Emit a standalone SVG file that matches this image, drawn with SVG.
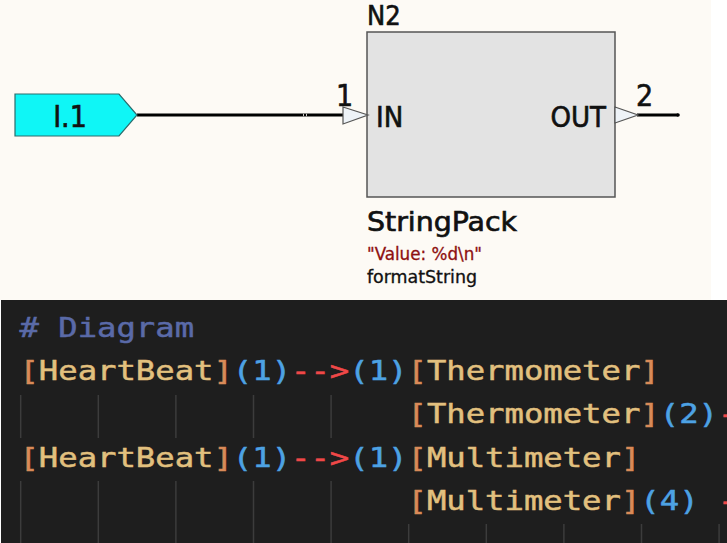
<svg xmlns="http://www.w3.org/2000/svg" width="727" height="543" viewBox="0 0 727 543">
<style>
.lbl{font-family:"DejaVu Sans Condensed","DejaVu Sans",sans-serif;fill:#111;stroke:#111;stroke-width:0.6;font-stretch:condensed}
.thin{stroke-width:0.3}
.wire{stroke:#000;stroke-width:3;fill:none}
.pin{fill:#eef3f8;stroke:#555;stroke-width:1.2}
.code{font-family:"DejaVu Sans Mono","Liberation Mono",monospace;font-size:27px;stroke-width:0.5}
.br{fill:#d98a58;stroke:#d98a58}
.nm{fill:#e2c07e;stroke:#e2c07e}
.pt{fill:#4da2e4;stroke:#4da2e4}
.ar{fill:#f04848;stroke:#f04848}
.cm{fill:#5a6aa8;stroke:#5a6aa8}
.guide{stroke:#3c3c3c;stroke-width:1.5}
</style>
<rect x="0" y="0" width="727" height="543" fill="#ffffff"/>
<rect x="0" y="0" width="711" height="300" fill="#fdfaf5"/>
<rect x="1" y="300" width="726" height="243" fill="#1e1e1e"/>

<g id="connectors">
  <line class="wire" x1="137" y1="115" x2="344" y2="115"/>
  <line x1="303.5" y1="113.8" x2="303.5" y2="116.2" stroke="#fdfaf5" stroke-width="0.8"/>
  <line x1="306.5" y1="113.8" x2="306.5" y2="116.2" stroke="#fdfaf5" stroke-width="0.8"/>
  <line class="wire" x1="637" y1="115" x2="678" y2="115"/>
  <circle cx="678" cy="115" r="1.8" fill="#000"/>
</g>

<g id="I1">
  <polygon points="15,94 119,94 137,115 119,136 15,136" fill="#0ff6f6" stroke="#2c6c6c" stroke-width="1.2"/>
  <text class="lbl" x="70" y="127" font-size="30" text-anchor="middle">I.1</text>
</g>

<g id="N2">
  <text class="lbl" x="367" y="25" font-size="27">N2</text>
  <rect x="367" y="32" width="248" height="165" fill="#e3e3e3" stroke="#555" stroke-width="1.5"/>
  <polygon class="pin" points="343,107 368,115 343,124"/>
  <polygon class="pin" points="615,107 638,115 615,123"/>
  <text class="lbl" x="336" y="106" font-size="30">1</text>
  <text class="lbl" x="636" y="106" font-size="30">2</text>
  <text class="lbl" x="376" y="127" font-size="29">IN</text>
  <text class="lbl" x="606" y="127" font-size="29" text-anchor="end">OUT</text>
  <text class="lbl" x="367" y="231" font-size="26" textLength="150" lengthAdjust="spacingAndGlyphs">StringPack</text>
  <text class="lbl thin" x="367" y="260" font-size="18" style="fill:#8e1010;stroke:#8e1010" textLength="115" lengthAdjust="spacingAndGlyphs">"Value: %d\n"</text>
  <text class="lbl thin" x="367" y="283" font-size="17" textLength="110" lengthAdjust="spacingAndGlyphs">formatString</text>
</g>

<g id="guides">
  <line class="guide" x1="20.7" y1="395" x2="20.7" y2="438"/>
  <line class="guide" x1="98.3" y1="395" x2="98.3" y2="438"/>
  <line class="guide" x1="175.9" y1="395" x2="175.9" y2="438"/>
  <line class="guide" x1="253.5" y1="395" x2="253.5" y2="438"/>
  <line class="guide" x1="331.1" y1="395" x2="331.1" y2="438"/>
  <line class="guide" x1="20.7" y1="481" x2="20.7" y2="543"/>
  <line class="guide" x1="98.3" y1="481" x2="98.3" y2="543"/>
  <line class="guide" x1="175.9" y1="481" x2="175.9" y2="543"/>
  <line class="guide" x1="253.5" y1="481" x2="253.5" y2="543"/>
  <line class="guide" x1="331.1" y1="481" x2="331.1" y2="543"/>
  <line class="guide" x1="408.7" y1="524" x2="408.7" y2="543"/>
  <line class="guide" x1="486.3" y1="524" x2="486.3" y2="543"/>
  <line class="guide" x1="563.9" y1="524" x2="563.9" y2="543"/>
  <line class="guide" x1="641.5" y1="524" x2="641.5" y2="543"/>
  <line class="guide" x1="719.1" y1="524" x2="719.1" y2="543"/>
</g>

<g id="code" class="code" transform="matrix(1.194 0 0 1 0 0)">
  <text x="16.3" y="337" class="cm"># Diagram</text>
  <text x="16.3" y="380.5"><tspan class="br">[</tspan><tspan class="nm">HeartBeat</tspan><tspan class="br">]</tspan><tspan class="pt">(1)</tspan><tspan class="ar">--&gt;</tspan><tspan class="pt">(1)</tspan><tspan class="br">[</tspan><tspan class="nm">Thermometer</tspan><tspan class="br">]</tspan></text>
  <text x="341.3" y="423.5"><tspan class="br">[</tspan><tspan class="nm">Thermometer</tspan><tspan class="br">]</tspan><tspan class="pt">(2)</tspan><tspan class="ar">-</tspan></text>
  <text x="16.3" y="466.8"><tspan class="br">[</tspan><tspan class="nm">HeartBeat</tspan><tspan class="br">]</tspan><tspan class="pt">(1)</tspan><tspan class="ar">--&gt;</tspan><tspan class="pt">(1)</tspan><tspan class="br">[</tspan><tspan class="nm">Multimeter</tspan><tspan class="br">]</tspan></text>
  <text x="341.3" y="510"><tspan class="br">[</tspan><tspan class="nm">Multimeter</tspan><tspan class="br">]</tspan><tspan class="pt">(4)</tspan></text>
  <text x="601.3" y="510" class="ar">-</text>
</g>
</svg>
